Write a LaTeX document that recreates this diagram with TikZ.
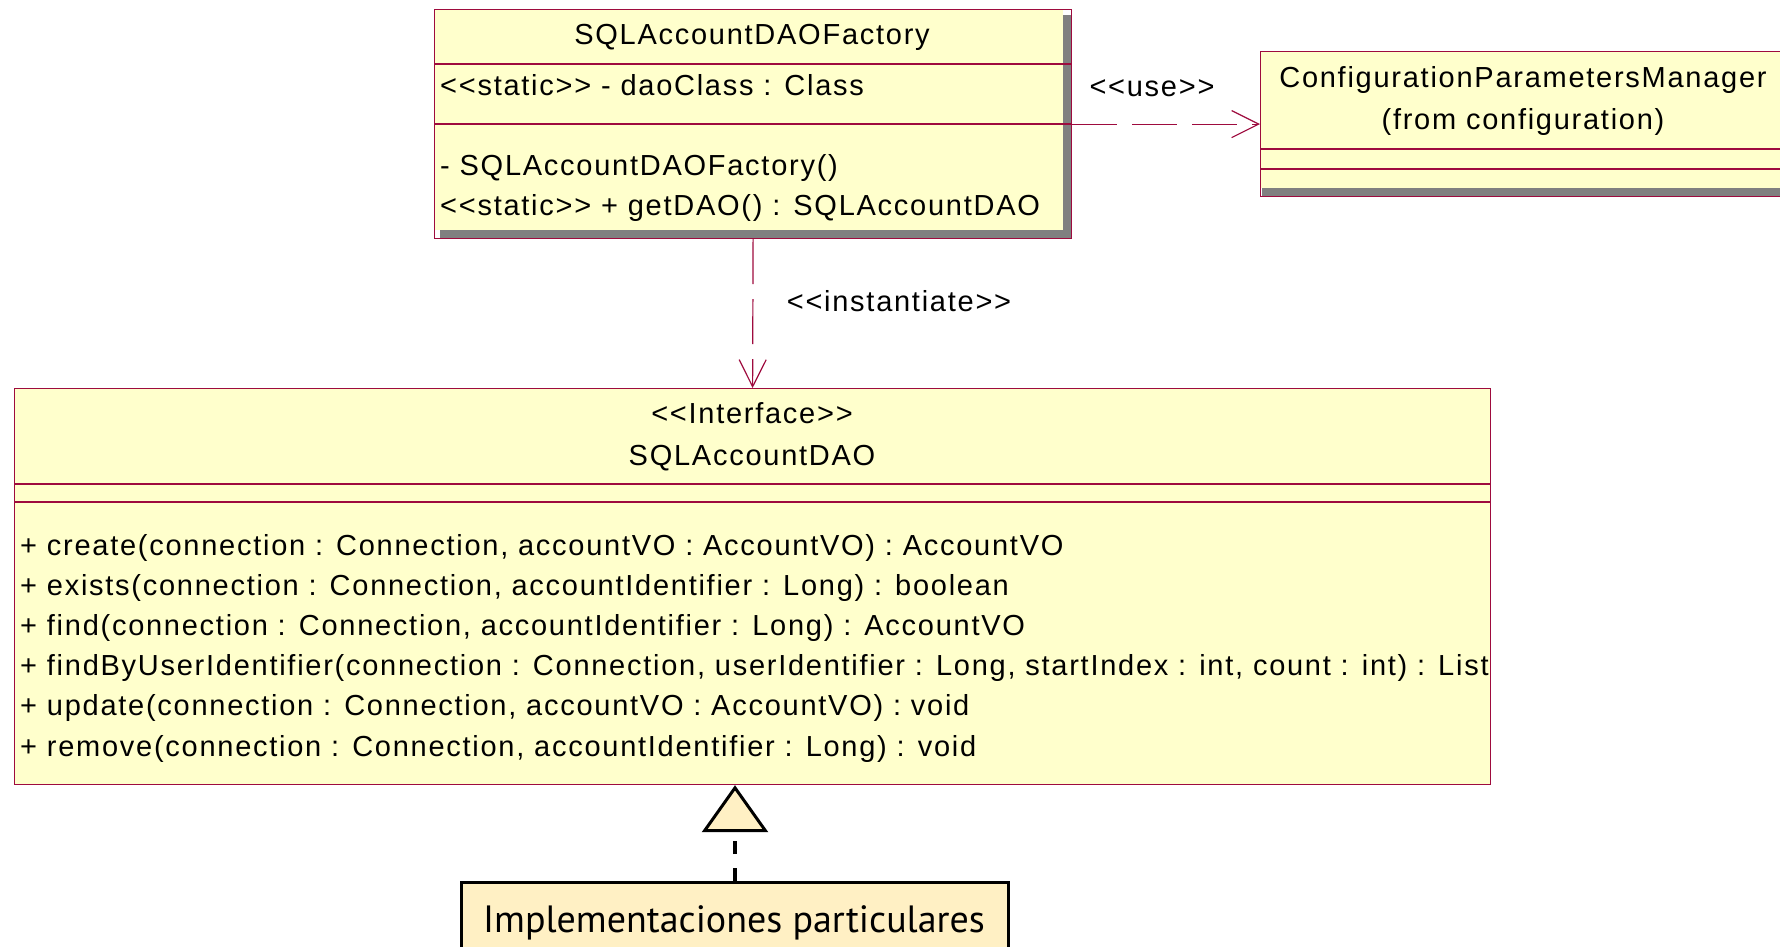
\documentclass[tikz,border=0pt]{standalone}
\usepackage{fontspec}
\setmainfont{Liberation Sans}[LetterSpace=6, Ligatures=TeXOff]
\newfontfamily\implfont{PT Sans}
\usetikzlibrary{arrows.meta}

\definecolor{umlfill}{HTML}{FFFFCC}
\definecolor{umlline}{HTML}{9E0B3E}
\definecolor{umlshadow}{HTML}{808080}
\definecolor{implfill}{HTML}{FFF0C4}

\tikzset{
    umlbox/.style={draw=umlline, line width=1.2pt, inner sep=0pt, anchor=north west},
    umltext/.style={font=\fontsize{29}{33}\selectfont, inner sep=0pt, anchor=base},
    umlsep/.style={draw=umlline, line width=1.2pt},
    dependency/.style={draw=umlline, line width=1.2pt, dash pattern=on 45pt off 15pt,
        -{Straight Barb[length=27pt, width=27pt, line width=1.2pt]}},
    realization/.style={draw=black, line width=4pt, dash pattern=on 13pt off 14pt,
        -{Triangle[length=47pt, width=66pt, open, fill=implfill, line width=3pt]}}
}

\begin{document}
\begin{tikzpicture}[x=1pt, y=-1pt]
    \useasboundingbox (0,0) rectangle (1780,946);

    % Clase SQLAccountDAOFactory (con sombra)
    \fill[umlshadow] (440,15) rectangle (1071,238);
    \fill[umlfill] (434,9) rectangle (1063,230);
    \node[umlbox, minimum width=637pt, minimum height=229pt] (factory) at (434,9) {};
    \draw[umlsep] (434,64) -- (1071,64);
    \draw[umlsep] (434,124) -- (1071,124);
    \node[umltext] (factoryname) at (752,44) {SQLAccountDAOFactory};
    \node[umltext, anchor=base west] (daoclass) at (440,95) {<<static>> - daoClass : Class};
    \node[umltext, anchor=base west] (factoryctor) at (440,175) {- SQLAccountDAOFactory()};
    \node[umltext, anchor=base west] (getdao) at (440,215) {<<static>> + getDAO() : SQLAccountDAO};

    % Clase ConfigurationParametersManager
    \fill[umlshadow] (1262,51) rectangle (1790,196);
    \fill[umlfill] (1260,51) rectangle (1790,188);
    \node[umlbox, minimum width=530pt, minimum height=145pt] (config) at (1260,51) {};
    \draw[umlsep] (1260,149) -- (1790,149);
    \draw[umlsep] (1260,169) -- (1790,169);
    \node[umltext] (configname) at (1523,87) {ConfigurationParametersManager};
    \node[umltext] (configpkg) at (1523,129) {(from configuration)};

    % Interfaz SQLAccountDAO
    \node[umlbox, fill=umlfill, minimum width=1476pt, minimum height=396pt] (iface) at (14,388) {};
    \draw[umlsep] (14,484) -- (1490,484);
    \draw[umlsep] (14,502) -- (1490,502);
    \node[umltext] (ifacestereo) at (752,423) {<<Interface>>};
    \node[umltext] (ifacename) at (752,465) {SQLAccountDAO};
    \node[umltext, anchor=base west] (mcreate) at (20,555) {+ create(connection : Connection, accountVO : AccountVO) : AccountVO};
    \node[umltext, anchor=base west] (mexists) at (20,595) {+ exists(connection : Connection, accountIdentifier : Long) : boolean};
    \node[umltext, anchor=base west] (mfind) at (20,635) {+ find(connection : Connection, accountIdentifier : Long) : AccountVO};
    \node[umltext, anchor=base west] (mfinduser) at (20,675) {+ findByUserIdentifier(connection : Connection, userIdentifier : Long, startIndex : int, count : int) : List};
    \node[umltext, anchor=base west] (mupdate) at (20,715) {+ update(connection : Connection, accountVO : AccountVO) : void};
    \node[umltext, anchor=base west] (mremove) at (20,756) {+ remove(connection : Connection, accountIdentifier : Long) : void};

    % Implementaciones particulares
    \node[draw=black, fill=implfill, line width=3pt, anchor=north west, minimum width=547pt,
        minimum height=100pt, inner sep=0pt] (impl) at (460,881) {};
    \node[font=\implfont\fontsize{38}{44}\selectfont, inner sep=0pt, anchor=base] (impltext) at (734,932) {Implementaciones particulares};

    % Dependencias
    \draw[dependency] (factory.east) -- (config.west);
    \node[umltext] (uselabel) at (1152,96) {<<use>>};
    \draw[dependency] (factory.south) -- (iface.north);
    \node[umltext] (instlabel) at (899,311) {<<instantiate>>};

    % Realizacion
    \draw[realization] (impl.north) -- (impl.north |- iface.south);
\end{tikzpicture}
\end{document}
